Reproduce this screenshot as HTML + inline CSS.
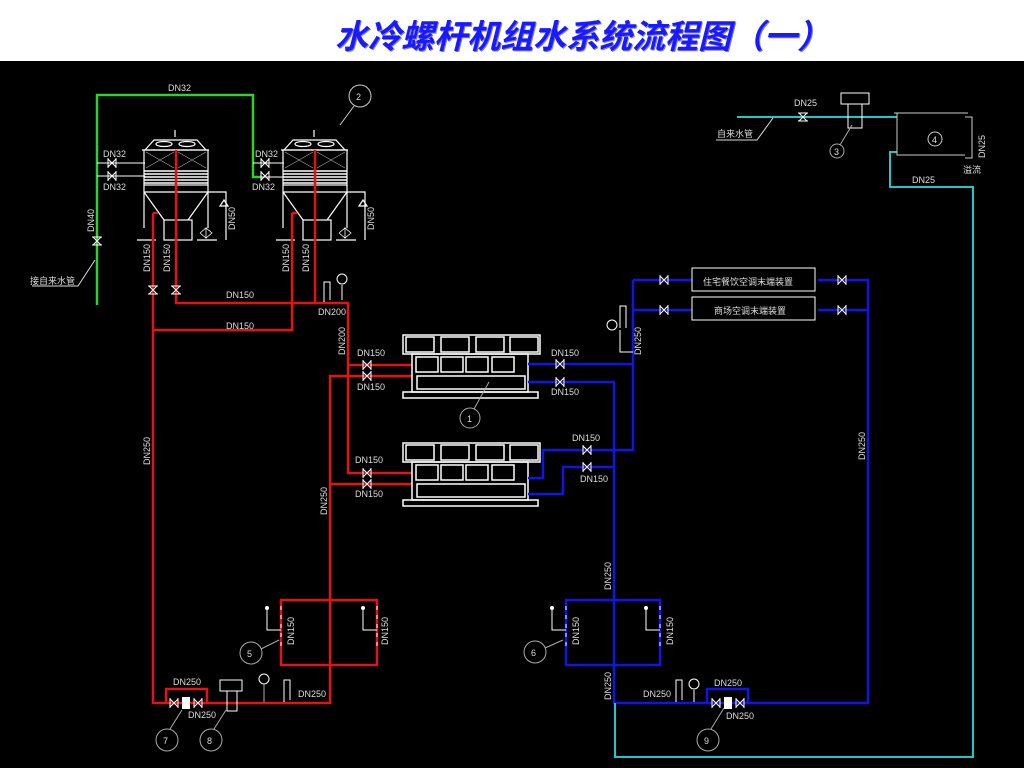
<!DOCTYPE html>
<html><head><meta charset="utf-8"><style>
html,body{margin:0;padding:0;width:1024px;height:768px;overflow:hidden;background:#000}
#t{position:absolute;left:0;top:0;width:1024px;height:61px;background:#fff}
#t div{position:absolute;left:335px;top:10px;font:italic bold 33px "Liberation Sans","Noto Sans CJK SC",sans-serif;color:#1a1aff;letter-spacing:0px;text-shadow:1px 1px 0 #8080c0;white-space:nowrap}
svg{position:absolute;left:0;top:0}
text{font-family:"Liberation Sans","Noto Sans CJK SC",sans-serif;fill:#ddd;font-size:9px}
</style></head><body>
<div id="t"><div>水冷螺杆机组水系统流程图（一）</div></div>
<svg width="1024" height="768" viewBox="0 0 1024 768">
<defs>
<g id="tower" stroke="#fff" fill="none" stroke-width="1.2">
<line x1="0" y1="35" x2="67" y2="35"/>
<path d="M3 35 L12 25 L55 25 L64 35"/>
<ellipse cx="22" cy="29" rx="8" ry="2.5"/><ellipse cx="45" cy="29" rx="8" ry="2.5"/>
<line x1="33" y1="15" x2="33" y2="22"/>
<rect x="2" y="35" width="64" height="35"/>
<line x1="34" y1="35" x2="34" y2="55"/>
<path d="M4 37 L32 53 M32 37 L4 53 M36 37 L64 53 M64 37 L36 53" stroke-width="0.6" stroke="#aaa"/>
<path d="M2 56 H66 M2 59 H66 M2 62 H66 M2 65 H66 M2 68 H66" stroke-width="1.5"/>
<line x1="2" y1="77" x2="66" y2="77"/>
<path d="M2 70 V113 M66 70 V113 M2 77 L22 105 M66 77 L46 105"/>
<rect x="22" y="105" width="28" height="20"/>
<path d="M-5 125 H14 M55 125 H75 M66 77 H84 V125 M82 85 l-4 6 h8 z M84 100 V112"/>
<path d="M58 118 l6 5 v-10 l-6 5 M70 118 l-6 5 v-10z" stroke-width="0.8"/>
</g>
<g id="chiller" stroke="#fff" fill="none" stroke-width="1.5">
<rect x="0" y="0" width="137" height="19"/>
<rect x="3" y="2" width="28" height="15"/><rect x="38" y="2" width="28" height="15"/><rect x="73" y="2" width="28" height="15"/><rect x="107" y="2" width="28" height="15"/>
<rect x="9" y="19" width="116" height="38"/>
<rect x="13" y="22" width="22" height="15"/><rect x="38" y="22" width="22" height="15"/><rect x="63" y="22" width="22" height="15"/><rect x="89" y="22" width="22" height="15"/>
<rect x="14" y="41" width="108" height="13"/>
<rect x="0" y="57" width="135" height="6"/>
</g>
<g id="vx" stroke="#fff" fill="none" stroke-width="1"><path d="M-4 -4 L4 4 M-4 4 L4 -4 M-4 -5 V5 M4 -5 V5"/></g>
<g id="vv" stroke="#fff" fill="none" stroke-width="1"><path d="M-4 -4 L4 4 M4 -4 L-4 4 M-5 -4 H5 M-5 4 H5"/></g>
</defs>

<g stroke="#2ed12e" stroke-width="2.5" fill="none">
<path d="M97 305 V95 H253 V177 H262"/>
</g>
<g stroke="#fff" stroke-width="1" fill="none">
<path d="M97 163 H145 M97 176 H145 M253 163 H284 M262 177 H284"/>
</g>
<use href="#vx" x="112" y="163"/><use href="#vx" x="112" y="176"/>
<use href="#vx" x="265" y="163"/><use href="#vx" x="265" y="176"/>
<use href="#vv" x="97" y="241"/>
<path d="M32 286 H78 L95 260" stroke="#ddd" fill="none"/>
<text x="30" y="284" font-size="8">接自来水管</text>
<text x="168" y="91">DN32</text>
<text x="103" y="157">DN32</text><text x="103" y="190">DN32</text>
<text x="255" y="157">DN32</text><text x="252" y="190">DN32</text>
<text transform="translate(94,232) rotate(-90)">DN40</text>

<use href="#tower" x="142" y="115"/>
<use href="#tower" x="281" y="115"/>
<text transform="translate(235,230) rotate(-90)">DN50</text>
<text transform="translate(374,230) rotate(-90)">DN50</text>
<circle cx="360" cy="96" r="11" stroke="#ccc" fill="none"/><text x="356" y="100" font-size="11">2</text>
<line x1="354" y1="106" x2="340" y2="125" stroke="#ccc"/>

<g stroke="#e01414" stroke-width="2.5" fill="none">
<path d="M176 150 V303 H348 V473 H412"/>
<path d="M315 150 V303"/>
<path d="M153 213 H158 M153 213 V703 H330 V376 H412"/>
<path d="M292 213 H297 M292 213 V330 H153"/>
<path d="M348 365 H412"/>
<path d="M330 484 H412"/>
<path d="M281 600 H377 V665 H281 Z"/>
<path d="M166 703 V689 H207 V703"/>
</g>
<use href="#vv" x="153" y="290"/><use href="#vv" x="176" y="290"/>
<text transform="translate(150,272) rotate(-90)">DN150</text>
<text transform="translate(170,272) rotate(-90)">DN150</text>
<text transform="translate(289,272) rotate(-90)">DN150</text>
<text transform="translate(309,272) rotate(-90)">DN150</text>
<text x="226" y="298">DN150</text><text x="226" y="329">DN150</text>
<text x="318" y="315">DN200</text>
<text transform="translate(345,355) rotate(-90)">DN200</text>
<text transform="translate(150,465) rotate(-90)">DN250</text>
<text transform="translate(327,515) rotate(-90)">DN250</text>
<path d="M324 302 V282 H330 V300 M342 300 V285" stroke="#fff" fill="none"/>
<circle cx="342" cy="279" r="5" stroke="#fff" fill="none"/>
<use href="#vx" x="367" y="365"/><use href="#vx" x="367" y="376"/>
<use href="#vx" x="367" y="473"/><use href="#vx" x="367" y="484"/>
<text x="357" y="356">DN150</text><text x="357" y="390">DN150</text>
<text x="355" y="463">DN150</text><text x="355" y="497">DN150</text>

<use href="#chiller" x="403" y="335"/>
<use href="#chiller" x="403" y="443"/>
<circle cx="470" cy="418" r="10" stroke="#aaa" fill="none"/><text x="467" y="422" font-size="10">1</text>
<line x1="474" y1="409" x2="489" y2="382" stroke="#aaa"/>

<g stroke="#1414e0" stroke-width="2.5" fill="none">
<path d="M528 364 H633 M528 382 H614 V703 H868 V280 H818 M818 310 H868"/>
<path d="M633 280 V450 H543 V478 H528 M528 494 H563 V467 H614"/>
<path d="M633 280 H692 M633 310 H692"/>
<path d="M566 600 H660 V665 H566 Z"/>
<path d="M707 703 V689 H748 V703"/>
</g>
<rect x="692" y="268" width="123" height="23" stroke="#fff" fill="none"/>
<rect x="692" y="297" width="123" height="23" stroke="#fff" fill="none"/>
<text x="703" y="285" font-size="13">住宅餐饮空调末端装置</text>
<text x="714" y="314" font-size="13">商场空调末端装置</text>
<use href="#vx" x="664" y="280"/><use href="#vx" x="664" y="310"/>
<use href="#vx" x="842" y="280"/><use href="#vx" x="842" y="310"/>
<use href="#vx" x="560" y="364"/><use href="#vx" x="560" y="382"/>
<use href="#vx" x="587" y="450"/><use href="#vx" x="587" y="467"/>
<text x="551" y="356">DN150</text><text x="551" y="395">DN150</text>
<text x="572" y="441">DN150</text><text x="580" y="482">DN150</text>
<text transform="translate(641,355) rotate(-90)">DN250</text>
<path d="M633 352 H620 V330 M620 328 V306 H626 V328" stroke="#fff" fill="none"/>
<circle cx="612" cy="325" r="5" stroke="#fff" fill="none"/>
<text transform="translate(865,460) rotate(-90)">DN250</text>
<text transform="translate(611,590) rotate(-90)">DN250</text>
<text transform="translate(611,700) rotate(-90)">DN250</text>
<text x="643" y="697">DN250</text>
<path d="M676 702 V680 H682 V700 M694 702 V690" stroke="#fff" fill="none"/>
<circle cx="694" cy="684" r="5" stroke="#fff" fill="none"/>
<text x="714" y="686">DN250</text><text x="726" y="719">DN250</text>
<rect x="724" y="697" width="8" height="12" fill="#fff"/>
<use href="#vx" x="716" y="703"/><use href="#vx" x="740" y="703"/>
<circle cx="708" cy="740" r="11" stroke="#aaa" fill="none"/><text x="704" y="744" font-size="11">9</text>
<line x1="711" y1="729" x2="724" y2="708" stroke="#aaa"/>

<g stroke="#fff" fill="none">
<path d="M281 606 V650 M377 606 V650 M566 606 V650 M660 606 V650" stroke-dasharray="4 5"/>
<path d="M267 610 V630 H281 M363 610 V630 H377 M552 610 V630 H566 M646 610 V630 H660"/>
</g>
<g fill="#fff"><circle cx="267" cy="608" r="2"/><circle cx="363" cy="608" r="2"/><circle cx="552" cy="608" r="2"/><circle cx="646" cy="608" r="2"/></g>
<text transform="translate(294,645) rotate(-90)">DN150</text>
<text transform="translate(388,645) rotate(-90)">DN150</text>
<text transform="translate(579,645) rotate(-90)">DN150</text>
<text transform="translate(673,645) rotate(-90)">DN150</text>
<circle cx="251" cy="653" r="11" stroke="#aaa" fill="none"/><text x="247" y="657" font-size="11">5</text>
<line x1="261" y1="649" x2="279" y2="640" stroke="#aaa"/>
<circle cx="535" cy="652" r="11" stroke="#aaa" fill="none"/><text x="531" y="656" font-size="11">6</text>
<line x1="545" y1="648" x2="563" y2="640" stroke="#aaa"/>

<text x="173" y="685">DN250</text><text x="188" y="718">DN250</text>
<rect x="182" y="697" width="8" height="12" fill="#fff"/>
<use href="#vx" x="174" y="703"/><use href="#vx" x="198" y="703"/>
<rect x="220" y="680" width="22" height="11" stroke="#fff" fill="none"/>
<rect x="227" y="691" width="10" height="20" stroke="#fff" fill="none"/>
<circle cx="264" cy="679" r="5" stroke="#fff" fill="none"/><line x1="264" y1="684" x2="264" y2="702" stroke="#aaa"/>
<path d="M284 702 V680 H290 V700" stroke="#fff" fill="none"/>
<text x="298" y="697">DN250</text>
<circle cx="167" cy="740" r="11" stroke="#aaa" fill="none"/><text x="163" y="744" font-size="11">7</text>
<line x1="170" y1="729" x2="182" y2="710" stroke="#aaa"/>
<circle cx="211" cy="740" r="11" stroke="#aaa" fill="none"/><text x="207" y="744" font-size="11">8</text>
<line x1="214" y1="729" x2="226" y2="710" stroke="#aaa"/>

<g stroke="#1fc8c8" stroke-width="2" fill="none">
<path d="M615 703 V757 H973 V187 H890 V152 H897"/>
<path d="M737 117 H897"/>
</g>
<text x="794" y="106">DN25</text>
<use href="#vv" x="803" y="117"/>
<rect x="841" y="93" width="28" height="11" stroke="#fff" fill="none"/>
<rect x="848" y="104" width="14" height="24" stroke="#fff" fill="none"/>
<circle cx="837" cy="151" r="7" stroke="#aaa" fill="none"/><text x="834" y="155">3</text>
<line x1="840" y1="145" x2="852" y2="125" stroke="#aaa"/>
<path d="M716 140 H757 L773 118" stroke="#ddd" fill="none"/>
<text x="717" y="137" font-size="8">自来水管</text>
<path d="M894 113 H968 M897 113 V155 H965 M965 117 H972 V158 H965" stroke="#ccc" fill="none"/>
<circle cx="935" cy="139" r="7" stroke="#ccc" fill="none"/><text x="932" y="143">4</text>
<text x="912" y="183">DN25</text>
<text transform="translate(985,158) rotate(-90)">DN25</text>
<text x="963" y="173" font-size="6">溢流</text>
</svg>
</body></html>
